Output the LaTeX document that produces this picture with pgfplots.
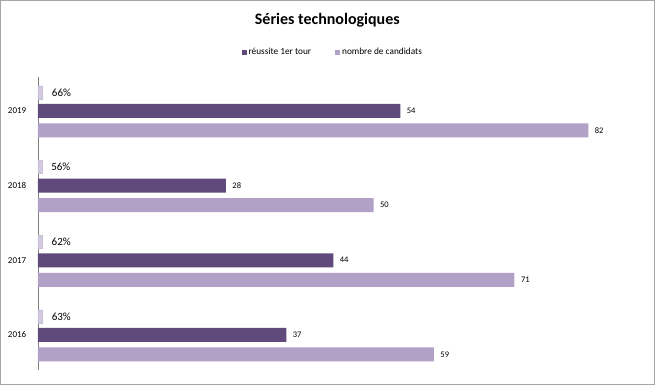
\documentclass[border=0pt]{standalone}
\usepackage{pgfplots}
\pgfplotsset{compat=1.18}
\usepackage{fontspec}
\setmainfont{Carlito}
\definecolor{darkp}{HTML}{5F4A7B}
\definecolor{lightp}{HTML}{B2A1C7}
\definecolor{tinyp}{HTML}{D3CBE0}
\begin{document}
\begin{tikzpicture}
\draw[line width=1.5pt, gray!70] (-37.25pt,-14.25pt) rectangle (616.25pt,369.25pt);
\begin{axis}[
 at={(0pt,0pt)}, anchor=south west,
 scale only axis, width=604pt, height=293pt,
 xmin=0, xmax=90, ymin=-0.47, ymax=3.455,
 axis x line=none, axis y line*=left,
 y axis line style={gray, line width=0.6pt, -},
 ytick={0,1,2,3}, yticklabels={2016,2017,2018,2019},
 ytick style={draw=none},
 /pgf/number format/assume math mode=true,
 yticklabel style={font=\fontsize{9}{10}\selectfont, xshift=-4pt},
 xbar, bar width=14pt,
 nodes near coords, nodes near coords style={font=\fontsize{8.5}{10}\selectfont, anchor=west, xshift=3pt, /pgf/number format/assume math mode=true},
 title={Séries technologiques}, title style={font=\bfseries\fontsize{16}{19}\selectfont, at={(0.479,1.172)}, anchor=center},
 legend style={at={(0.488,1.085)}, anchor=center, draw=none, legend columns=2, font=\fontsize{9.3}{11}\selectfont, /tikz/every even column/.append style={column sep=22pt}},
 legend image code/.code={\fill[#1] (0pt,-2.5pt) rectangle (5pt,2.5pt);},
 clip=false,
]
\addplot[fill=darkp, draw=none, bar shift=0pt] coordinates {(37,0) (44,1) (28,2) (54,3)};
\addlegendentry{réussite 1er tour}
\addplot[fill=lightp, draw=none, bar shift=-19.5pt] coordinates {(59,0) (71,1) (50,2) (82,3)};
\addlegendentry{nombre de candidats}
\addplot[fill=tinyp, draw=lightp!70, bar shift=18.5pt, bar width=13pt, point meta=explicit symbolic, nodes near coords style={font=\fontsize{11}{13}\selectfont, xshift=3pt}] coordinates {(0.63,0)[63\%] (0.62,1)[62\%] (0.56,2)[56\%] (0.66,3)[66\%]};
\end{axis}
\end{tikzpicture}
\end{document}
